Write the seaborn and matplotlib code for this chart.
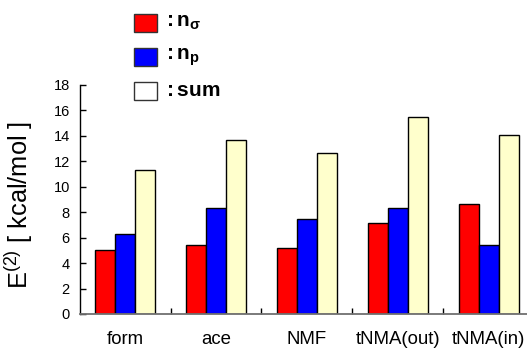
import pandas as pd
import matplotlib
matplotlib.use("Agg")
import matplotlib.pyplot as plt
from matplotlib.patches import Rectangle
from matplotlib.ticker import FixedLocator
import seaborn as sns

# === DATOS ===
categories = ["form", "ace", "NMF", "tNMA(out)", "tNMA(in)"]
n_sigma = [5.05, 5.39, 5.21, 7.18, 8.68]
n_p = [6.29, 8.34, 7.50, 8.34, 5.39]
total = [11.31, 13.71, 12.65, 15.52, 14.07]
series = ["n_sigma", "n_p", "sum"]
colors = ["#FF0000", "#0000FF", "#FFFFCC"]

df = pd.DataFrame({
    "cat": categories * 3,
    "serie": [series[0]] * 5 + [series[1]] * 5 + [series[2]] * 5,
    "val": n_sigma + n_p + total,
})

sns.set_style("white")
plt.rcParams["font.family"] = ["Liberation Sans", "DejaVu Sans"]
plt.rcParams["text.color"] = "black"
plt.rcParams["axes.labelcolor"] = "black"
plt.rcParams["xtick.color"] = "black"
plt.rcParams["ytick.color"] = "black"
plt.rcParams["mathtext.fontset"] = "custom"
plt.rcParams["mathtext.rm"] = "Liberation Sans"
plt.rcParams["mathtext.it"] = "Liberation Sans"
plt.rcParams["mathtext.bf"] = "Liberation Sans:bold"

fig = plt.figure(figsize=(5.27, 3.52), dpi=100)
ax = fig.add_axes([0.151, 0.108, 0.863, 0.6506])

sns.barplot(data=df, x="cat", y="val", hue="serie", palette=colors,
            width=2 / 3, edgecolor="black", linewidth=1, saturation=1,
            legend=False, ax=ax)

ax.set_xlim(-0.5, 4.5)
ax.set_ylim(0, 18)
ax.set_yticks(range(0, 19, 2))
ax.set_xlabel("")
ax.set_ylabel(r"E$^{(2)}$ [ kcal/mol ]", fontsize=18.3)
ax.yaxis.set_label_coords(-0.097, 0.478)

for s in ["top", "right"]:
    ax.spines[s].set_visible(False)
ax.spines["left"].set_color("black")
ax.spines["left"].set_linewidth(1)
ax.spines["bottom"].set_color("#6f6f6f")
ax.spines["bottom"].set_linewidth(1.3)

ax.tick_params(axis="y", direction="in", length=4, width=1, color="black",
               pad=7, labelsize=10.5, left=True)
for lab in ax.get_yticklabels():
    lab.set_family(["Liberation Sans Narrow", "Liberation Sans"])
ax.tick_params(axis="x", which="major", length=0, pad=12, labelsize=13.4)
ax.xaxis.set_minor_locator(FixedLocator([0.5, 1.5, 2.5, 3.5]))
ax.tick_params(axis="x", which="minor", direction="in", length=4, width=1,
               color="black", bottom=True)

# === LEYENDA MANUAL ===
labels = [r"$\mathbf{:n_{\sigma}}$", r"$\mathbf{:n_{p}}$", r"$\mathbf{:sum}$"]
box_colors = ["#FF0000", "#0000FF", "#FFFFFF"]
box_bottoms = [0.909, 0.8125, 0.716]
for col, lab, yb in zip(box_colors, labels, box_bottoms):
    fig.patches.append(Rectangle((0.254, yb), 0.0436, 0.052, facecolor=col,
                                 edgecolor="#333333", linewidth=1,
                                 transform=fig.transFigure, figure=fig))
    fig.text(0.309, yb + 0.026, lab, fontsize=15, va="center", ha="left")

fig.savefig("out.png", dpi=100)
